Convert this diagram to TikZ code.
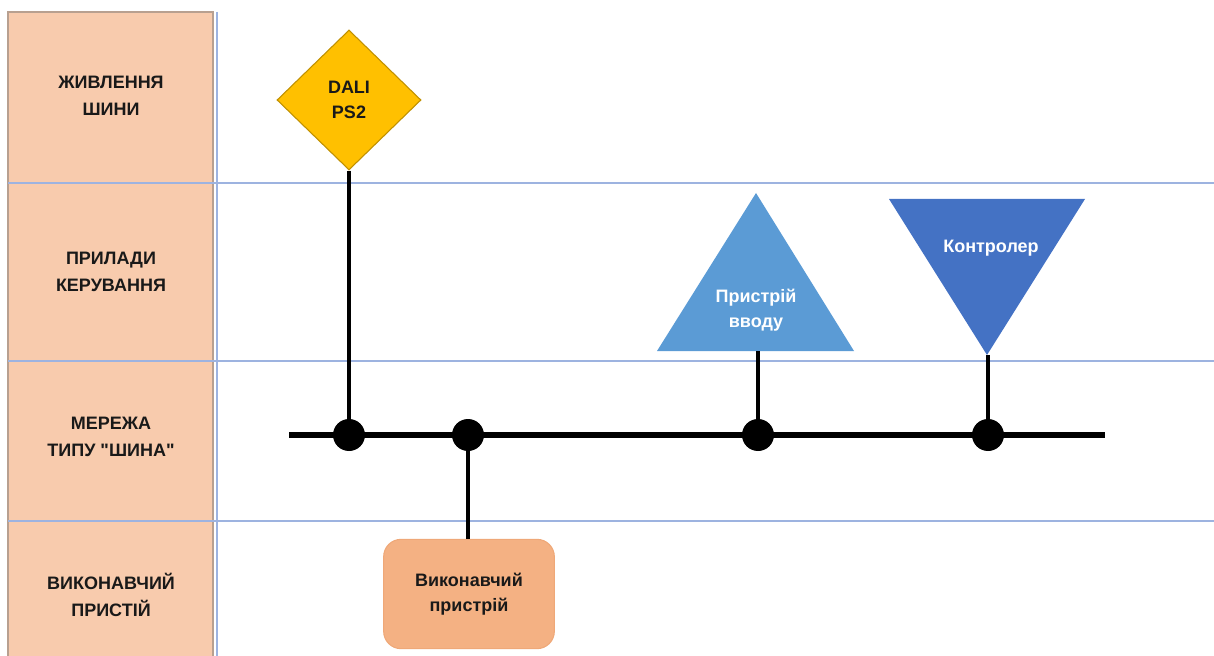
\documentclass[tikz,border=0pt]{standalone}
\usepackage{fontspec}
\setmainfont{Liberation Sans}[Ligatures=TeXOff]
\usetikzlibrary{shapes.geometric}
\definecolor{headfill}{HTML}{F8CBAD}
\definecolor{headedge}{HTML}{B8A090}
\definecolor{laneline}{HTML}{9DB3E0}
\definecolor{psfill}{HTML}{FFC000}
\definecolor{psedge}{HTML}{C09000}
\definecolor{actfill}{HTML}{F4B183}
\definecolor{actedge}{HTML}{EFA878}
\definecolor{infill}{HTML}{5B9BD5}
\definecolor{ctlfill}{HTML}{4472C4}
\tikzset{
  lanelabel/.style={font=\bfseries\fontsize{13.5}{20.5}\selectfont, align=center, text=black!90},
  shapetext/.style={font=\bfseries\fontsize{13.5}{18.5}\selectfont, align=center},
  junction/.style={circle, fill=black, inner sep=0pt, minimum size=24pt},
  stub/.style={line width=2.3pt, black},
  busline/.style={line width=5.2pt, black},
}
\begin{document}
\begin{tikzpicture}[x=0.75pt, y=-0.75pt]
\useasboundingbox (0,0) rectangle (1214,656);
% header column
\fill[headfill] (8,12) rectangle (213,656);
\draw[headedge, line width=0.8pt] (8,656) -- (8,12) -- (213,12) -- (213,656);
\draw[laneline, line width=1.2pt] (217,12) -- (217,656);
% lane separators
\foreach \yy in {183,361,521}
  \draw[laneline, line width=0.9pt] (8,\yy) -- (1214,\yy);
% lane titles
\node[lanelabel] (l1) at (111,96) {ЖИВЛЕННЯ\\ШИНИ};
\node[lanelabel] (l2) at (111,272) {ПРИЛАДИ\\КЕРУВАННЯ};
\node[lanelabel] (l3) at (111,437) {МЕРЕЖА\\ТИПУ "ШИНА"};
\node[lanelabel] (l4) at (111,595) {ВИКОНАВЧИЙ\\ПРИСТІЙ};
% bus power supply
\node[diamond, fill=psfill, draw=psedge, line width=0.8pt, inner sep=0pt,
      minimum width=108pt, minimum height=105pt, shapetext, text=black!90] (ps) at (349,100) {DALI\\PS2};
% input device (upward triangle)
\fill[infill] (657,351) -- (756,193) -- (854,351) -- cycle;
\coordinate (inbase) at (758,351);
\node[shapetext, text=white] (in) at (756,310) {Пристрій\\вводу};
% controller (downward triangle)
\fill[ctlfill] (889,199) -- (1085,199) -- (987,355) -- cycle;
\coordinate (ctlapex) at (988,355);
\node[shapetext, text=white] (ctl) at (991,248) {Контролер};
% actuator
\node[rectangle, rounded corners=13pt, fill=actfill, draw=actedge, line width=0.8pt,
      minimum width=128pt, minimum height=82pt, shapetext, text=black!90] (act) at (469,594) {Виконавчий\\пристрій};
% bus
\coordinate (busL) at (289,435);
\coordinate (busR) at (1105,435);
\draw[busline] (busL) -- (busR);
\node[junction] (j1) at (349,435) {};
\node[junction] (j2) at (468,435) {};
\node[junction] (j3) at (758,435) {};
\node[junction] (j4) at (988,435) {};
% stubs
\draw[stub] (ps.south) -- (j1.center);
\draw[stub] (j2.center) -- (j2.center |- act.north);
\draw[stub] (inbase) -- (j3.center);
\draw[stub] (ctlapex) -- (j4.center);
\end{tikzpicture}
\end{document}
